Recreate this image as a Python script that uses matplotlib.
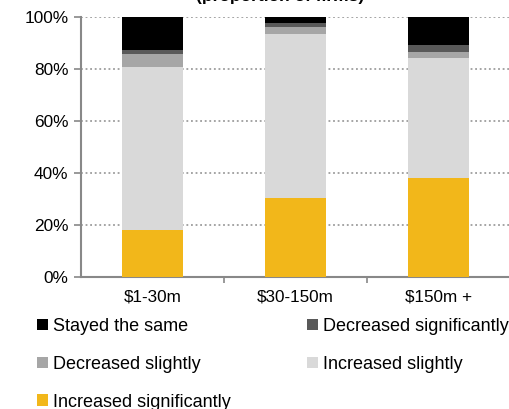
import matplotlib
matplotlib.use("Agg")
import matplotlib.pyplot as plt
from matplotlib.patches import Patch
import numpy as np

plt.rcParams['font.family'] = ['Liberation Sans', 'DejaVu Sans']

categories = ["$1-30m", "$30-150m", "$150m +"]
series_names = ["Increased significantly", "Increased slightly",
                "Decreased slightly", "Decreased significantly", "Stayed the same"]
increased_significantly = [18.0, 30.5, 38.0]
increased_slightly = [63.0, 63.2, 46.5]
decreased_slightly = [5.0, 2.7, 2.2]
decreased_significantly = [1.4, 1.5, 2.8]
stayed_the_same = [12.6, 2.1, 10.5]
yticks = [0, 20, 40, 60, 80, 100]
ytick_labels = ["0%", "20%", "40%", "60%", "80%", "100%"]

series = [increased_significantly, increased_slightly, decreased_slightly,
          decreased_significantly, stayed_the_same]
colors = ["#F2B71A", "#D9D9D9", "#A6A6A6", "#595959", "#000000"]

W, H = 510, 409
fig = plt.figure(figsize=(W / 100, H / 100), dpi=100)
ax = fig.add_axes([81 / W, 1 - 277 / H, (510 - 81) / W, (277 - 17.3) / H])

x = np.arange(len(categories))
bottom = np.zeros(len(categories))
for vals, col in zip(series, colors):
    ax.bar(x, vals, width=0.42, bottom=bottom, color=col, zorder=3)
    bottom += np.array(vals)

ax.set_xlim(-0.5, 2.5)
ax.set_ylim(0, 100)
ax.set_yticks(yticks)
ax.set_yticklabels(ytick_labels, fontsize=12.4)
ax.set_xticks([0.5, 1.5])
ax.set_xticklabels([])
ax.set_xticks(x, minor=True)
ax.set_xticklabels(categories, minor=True, fontsize=12.3)
ax.tick_params(axis='x', which='minor', length=0, pad=9)
ax.tick_params(axis='x', which='major', length=4, color="#888888", width=1.2)
ax.tick_params(axis='y', length=5, color="#888888", width=1.2, pad=4)

ax.yaxis.grid(True, linestyle=(0, (1.2, 1.8)), color="#8c8c8c", linewidth=1.1, zorder=0)
for s in ["top", "right"]:
    ax.spines[s].set_visible(False)
for s in ["left", "bottom"]:
    ax.spines[s].set_color("#888888")
    ax.spines[s].set_linewidth(1.5)

# chart title sits at the very top edge of the canvas
fig.text(280 / W, 1 - 1 / H, "(proportion of firms)", ha='center', va='baseline',
         fontsize=12.5, fontweight='bold')

# legend: two columns, filled row by row
order = [4, 2, 0, 3, 1]
handles = [Patch(facecolor=colors[i], edgecolor='none') for i in order]
labels = [series_names[i] for i in order]
fig.legend(handles, labels, ncol=2, loc='upper left',
           bbox_to_anchor=(37 / W, 1 - 318 / H), frameon=False,
           fontsize=13, handlelength=0.6, handleheight=0.6, handletextpad=0.3,
           labelspacing=1.15, columnspacing=4.2, borderpad=0, borderaxespad=0)

fig.savefig("out.png", dpi=100)
